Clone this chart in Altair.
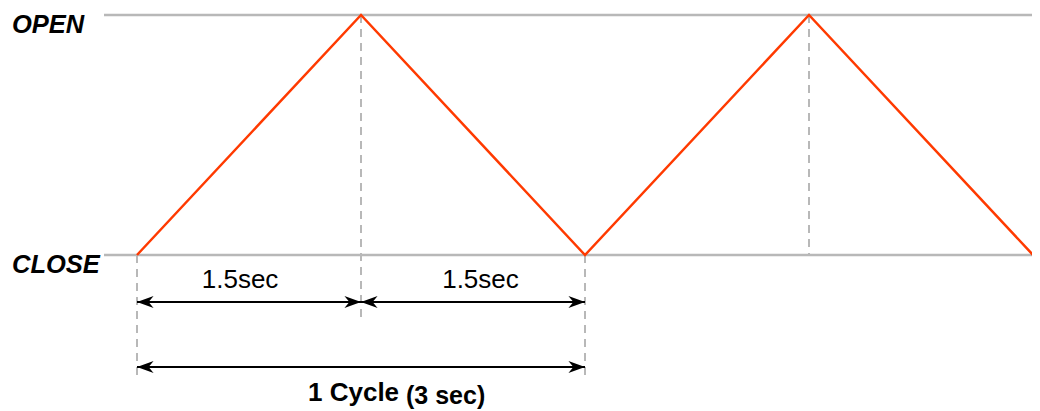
import altair as alt
import pandas as pd

# ---- data ----
wave_t = [0, 1.5, 3, 4.5, 6]
wave_level = [0, 1, 0, 1, 0]          # 0 = CLOSE, 1 = OPEN
level_names = ["CLOSE", "OPEN"]
level_values = [0, 1]

peak_t = [1.5, 4.5]                    # dashed guides from OPEN down
cycle_edges_t = [0, 3]                 # dashed guides below CLOSE
half_arrow_start = [0, 1.5]
half_arrow_end = [1.5, 3]
half_labels = ["1.5sec", "1.5sec"]
half_label_t = [0.69, 2.30]
cycle_start, cycle_end = 0, 3
cycle_label = "1 Cycle"
cycle_sub = "(3 sec)"

FONT = "Liberation Sans"
RED = "#ff3a00"
GRAY = "#b8b8b8"

xs = alt.Scale(domain=[0, 6], range=[129, 1025])
ys = alt.Scale(domain=[0, 1], range=[247, 7])
X = lambda f: alt.X(f, type="quantitative", scale=xs, axis=None)
Y = lambda f: alt.Y(f, type="quantitative", scale=ys, axis=None)

wave = pd.DataFrame({"t": wave_t, "v": wave_level, "o": range(len(wave_t))})
levels = pd.DataFrame({"name": level_names, "v": level_values})

grid = alt.Chart(levels).mark_rule(color=GRAY, strokeWidth=2.5).encode(
    x=alt.value(96), x2=alt.value(1024), y=Y("v")
)
level_txt = alt.Chart(levels).mark_text(
    font=FONT, fontSize=25.5, fontWeight="bold", fontStyle="italic",
    align="left", baseline="alphabetic", dy=18
).encode(x=alt.value(4), y=Y("v"), text="name:N")

peaks = pd.DataFrame({"t": peak_t, "top": [1, 1], "bot": [0, 0]})
peak_dash_a = alt.Chart(peaks.iloc[[0]]).mark_rule(color=GRAY, strokeWidth=2, strokeDash=[8, 6]).encode(
    x=X("t"), y=Y("top"), y2=alt.value(312)
)
peak_dash_b = alt.Chart(peaks.iloc[[1]]).mark_rule(color=GRAY, strokeWidth=2, strokeDash=[8, 6]).encode(
    x=X("t"), y=Y("top"), y2="bot:Q"
)
edges = pd.DataFrame({"t": cycle_edges_t, "v": [0, 0]})
edge_dash = alt.Chart(edges).mark_rule(color=GRAY, strokeWidth=2, strokeDash=[8, 6]).encode(
    x=X("t"), y=Y("v"), y2=alt.value(368)
)

line = alt.Chart(wave).mark_line(color=RED, strokeWidth=2.5).encode(
    x=X("t"), y=Y("v"), order="o:O"
)

RIGHT = "M0,0L-1,-0.36L-0.7,0L-1,0.36Z"
LEFT = "M0,0L1,-0.36L0.7,0L1,0.36Z"

def arrow(starts, ends, ypx):
    df = pd.DataFrame({"a": starts, "b": ends})
    shaft = alt.Chart(df).mark_rule(color="black", strokeWidth=2).encode(
        x=X("a"), x2="b:Q", y=alt.value(ypx)
    )
    head_r = alt.Chart(df).mark_point(shape=RIGHT, filled=True, color="black", size=1100, opacity=1).encode(
        x=X("b"), y=alt.value(ypx)
    )
    head_l = alt.Chart(df).mark_point(shape=LEFT, filled=True, color="black", size=1100, opacity=1).encode(
        x=X("a"), y=alt.value(ypx)
    )
    return [shaft, head_r, head_l]

half_arrows = arrow(half_arrow_start, half_arrow_end, 294)
cycle_arrow = arrow([cycle_start], [cycle_end], 359)

half_txt = alt.Chart(pd.DataFrame({"t": half_label_t, "s": half_labels})).mark_text(
    font=FONT, fontSize=26, align="center", baseline="alphabetic"
).encode(x=X("t"), y=alt.value(280), text="s:N")

cyc_df = pd.DataFrame({"s": [cycle_label], "s2": [cycle_sub]})
cyc_txt = alt.Chart(cyc_df).mark_text(
    font=FONT, fontSize=26, fontWeight="bold", align="left", baseline="alphabetic"
).encode(x=alt.value(300), y=alt.value(393), text="s:N")
cyc_sub = alt.Chart(cyc_df).mark_text(
    font=FONT, fontSize=25, fontWeight="bold", align="left", baseline="alphabetic"
).encode(x=alt.value(398), y=alt.value(396), text="s2:N")

chart = alt.layer(
    grid, peak_dash_a, peak_dash_b, edge_dash, line, level_txt,
    *half_arrows, *cycle_arrow, half_txt, cyc_txt, cyc_sub
).properties(
    width=1024, height=403, autosize=alt.AutoSizeParams(type="none"), padding=0
).configure_view(stroke=None)

chart.save("out.html", embed_options={"renderer": "svg", "actions": False})
